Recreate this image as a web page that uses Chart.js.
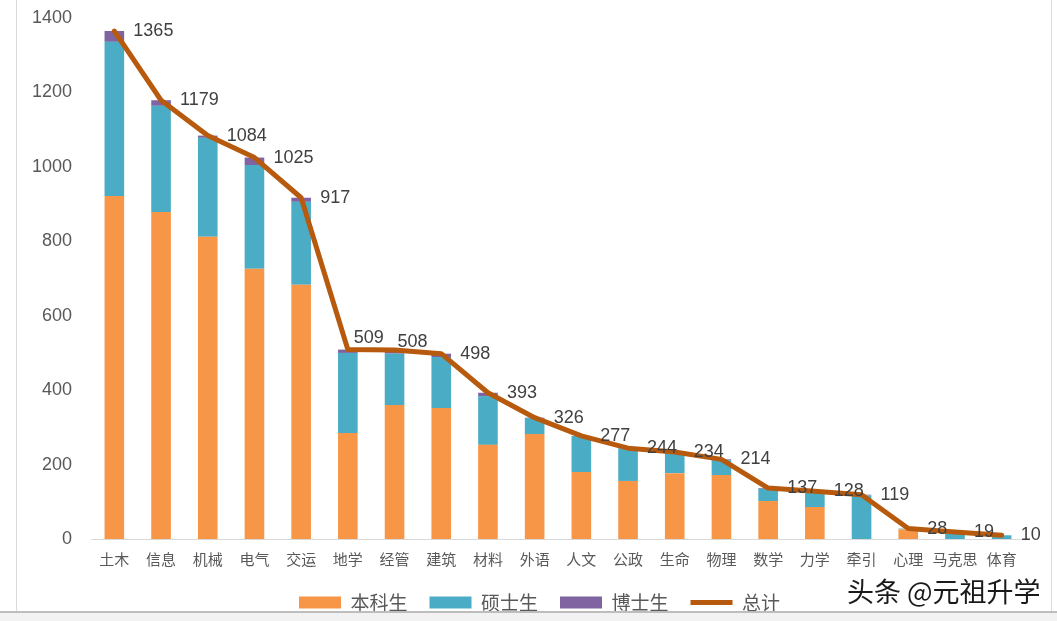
<!DOCTYPE html>
<html>
<head>
<meta charset="utf-8">
<script src="https://cdn.jsdelivr.net/npm/chart.js@4.4.1/dist/chart.umd.min.js"></script>
<style>
  html, body { margin: 0; padding: 0; background: #fff; }
  #wrap { position: relative; width: 1057px; height: 621px; overflow: hidden; }
  #chart { position: absolute; left: 0; top: 0; }
  .edge-l { position: absolute; left: 16px; top: 0; width: 1px; height: 611px; background: #d9d9d9; }
  .edge-r { position: absolute; left: 1051px; top: 0; width: 1px; height: 611px; background: #d9d9d9; }
  .strip { position: absolute; left: 0; top: 611px; width: 1057px; height: 10px; background: #f2f2f2; border-top: 2px solid #bdbdbd; }
  .mark {
    position: absolute; left: 847px; top: 571px;
    font-family: "Noto Sans CJK SC", sans-serif; font-size: 27px; color: #1a1a1a;
    text-shadow: 0 0 3px #fff, 0 0 3px #fff;
  }
</style>
</head>
<body>
<div id="wrap">
  <canvas id="chart" width="1057" height="621"></canvas>
  <div class="edge-l"></div>
  <div class="edge-r"></div>
  <div class="strip"></div>
  <div class="mark">头条 @元祖升学</div>
</div>
<script>
const majors = ["土木", "信息", "机械", "电气", "交运", "地学", "经管", "建筑", "材料", "外语",
    "人文", "公政", "生命", "物理", "数学", "力学", "牵引", "心理", "马克思", "体育"];
const undergrad = [922, 879, 812, 726, 683, 285, 360, 352, 253, 282, 180, 156, 177, 172, 102, 86, 0, 26, 0, 0];
const master = [414, 285, 266, 279, 223, 215, 138, 137, 131, 43, 97, 88, 57, 40, 33, 40, 117, 2, 19, 10];
const doctor = [29, 15, 6, 20, 11, 9, 10, 9, 9, 1, 0, 0, 0, 2, 2, 2, 2, 0, 0, 0];
const totals = [1365, 1179, 1084, 1025, 917, 509, 508, 498, 393, 326, 277, 244, 234, 214, 137, 128, 119, 28, 19, 10];
const yTicks = [0, 200, 400, 600, 800, 1000, 1200, 1400];

const cjk = '"Noto Sans CJK SC", sans-serif';
const latin = '"Liberation Sans", "Noto Sans CJK SC", sans-serif';

// labels for the total line, placed to the right of each point
const totalLabels = {
    id: "totalLabels",
    afterDatasetsDraw(chart) {
        const meta = chart.getDatasetMeta(3);
        const ctx = chart.ctx;
        ctx.save();
        ctx.font = "18px " + latin;
        ctx.fillStyle = "#404040";
        ctx.textBaseline = "middle";
        ctx.textAlign = "left";
        meta.data.forEach((pt, i) => {
            let dx = 19, dy = 0;
            if (i === 5) { dx = 6; dy = -12; }
            if (i === 6) { dx = 3; dy = -8; }
            ctx.fillText(String(totals[i]), pt.x + dx, pt.y + dy);
        });
        ctx.restore();
    }
};

// legend in the original sits a bit right of the canvas centre
const legendShift = {
    id: "legendShift",
    afterLayout(chart) {
        chart.legend.left += 27;
        chart.legend.right += 27;
    }
};

new Chart(document.getElementById("chart"), {
    type: "bar",
    data: {
        labels: majors,
        datasets: [
            { label: "本科生", data: undergrad, backgroundColor: "#F79646", order: 1 },
            { label: "硕士生", data: master, backgroundColor: "#4BACC6", order: 1 },
            { label: "博士生", data: doctor, backgroundColor: "#8064A2", order: 1 },
            {
                type: "line", label: "总计", data: totals, order: 0,
                borderColor: "#B85A0E", backgroundColor: "#B85A0E",
                borderWidth: 5, pointRadius: 0, tension: 0,
                borderJoinStyle: "round", borderCapStyle: "round"
            }
        ]
    },
    options: {
        responsive: false,
        animation: false,
        layout: { padding: { top: 18, right: 32, left: 0, bottom: -1 } },
        datasets: { bar: { barPercentage: 0.42, categoryPercentage: 1 } },
        scales: {
            x: {
                stacked: true,
                grid: { display: false, drawTicks: false },
                border: { display: true, color: "#d9d9d9", width: 1 },
                ticks: { color: "#595959", font: { family: cjk, size: 15 }, padding: 11, maxRotation: 0, autoSkip: false },
                afterFit(scale) { scale.height = 32; }
            },
            y: {
                stacked: true,
                min: 0, max: 1400,
                afterBuildTicks(scale) { scale.ticks = yTicks.map(v => ({ value: v })); },
                grid: { display: false, drawTicks: false },
                border: { display: false },
                ticks: {
                    color: "#595959", font: { family: latin, size: 18 }, padding: 19,
                    callback: (v) => String(v)
                },
                afterFit(scale) {
                    scale.width = 91;
                    scale.paddingTop = 0;
                    scale.paddingBottom = 0;
                }
            }
        },
        plugins: {
            tooltip: { enabled: false },
            legend: {
                position: "bottom",
                labels: {
                    usePointStyle: true,
                    pointStyleWidth: 42,
                    boxHeight: 12,
                    padding: 22,
                    color: "#595959",
                    font: { family: cjk, size: 19 },
                    generateLabels(chart) {
                        return chart.data.datasets.map((ds, i) => ({
                            text: ds.label,
                            fillStyle: ds.backgroundColor,
                            strokeStyle: ds.borderColor || ds.backgroundColor,
                            lineWidth: ds.type === "line" ? 5 : 0,
                            pointStyle: ds.type === "line" ? "line" : "rect",
                            fontColor: "#595959",
                            hidden: false,
                            datasetIndex: i
                        }));
                    }
                }
            }
        }
    },
    plugins: [totalLabels, legendShift]
});
</script>
</body>
</html>
